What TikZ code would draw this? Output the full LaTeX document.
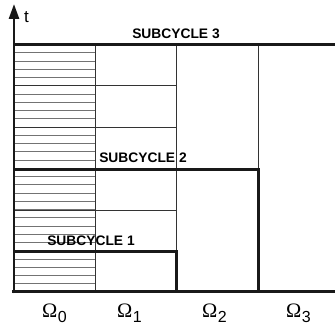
\documentclass[tikz,border=0pt]{standalone}
\usepackage{fontspec}
\setmainfont{Liberation Sans}
\newfontfamily\omserif{Liberation Serif}
\usetikzlibrary{arrows.meta}
\newcommand{\omlab}[1]{{\omserif\fontsize{20.5}{21}\selectfont\char"03A9}\raisebox{-5pt}{\fontsize{16}{16}\selectfont\rmfamily\hspace{0.5pt}#1}}
\begin{document}
\begin{tikzpicture}[x=1pt,y=-1pt,
  thickln/.style={line width=3pt, black!90},
  axisln/.style={line width=2.6pt, black!90},
  thinln/.style={line width=0.9pt, black!80},
  hatchln/.style={line width=0.8pt, black!55},
  sublabel/.style={font=\fontsize{13.8}{14}\selectfont\bfseries, inner sep=0pt},
  omlabel/.style={inner sep=0pt, anchor=base west}]
\useasboundingbox (0,0) rectangle (335,331);
% hatching in Omega_0
\foreach \i in {1,...,29} {
  \pgfmathsetmacro\yy{44.5+\i*247.5/30}
  \draw[hatchln] (14,\yy) -- (95,\yy);
}
% thin grid lines
\draw[thinln] (14,85.75) -- (176,85.75);
\draw[thinln] (14,127) -- (176,127);
\draw[thinln] (14,210.75) -- (176,210.75);
\draw[thinln] (95,44.5) -- (95,292);
\draw[thinln] (176,44.5) -- (176,252);
\draw[thinln] (258,44.5) -- (258,170);
% thick subcycle lines
\draw[thickln] (14,44.5) -- (335,44.5);
\draw[thickln] (14,170) -- (258,170) -- (258,292);
\draw[thickln] (14,252) -- (176,252) -- (176,292);
\draw[thickln] (12,292) -- (335,292);
% axis
\coordinate (ybot) at (14,293.5);
\coordinate (ytop) at (14,4);
\draw[axisln, -{Triangle[length=15pt,width=10pt]}] (ybot) -- (ytop);
\node[inner sep=0pt, font=\fontsize{17}{17}\selectfont] (tlab) at (26.5,17.5) {t};
% labels
\node[sublabel] (s3) at (176,33.5) {SUBCYCLE 3};
\node[sublabel] (s2) at (143,158) {SUBCYCLE 2};
\node[sublabel] (s1) at (91,240.5) {SUBCYCLE 1};
% Omega labels
\node[omlabel] (o0) at (42,318) {\omlab{0}};
\node[omlabel] (o1) at (117,318) {\omlab{1}};
\node[omlabel] (o2) at (202,318) {\omlab{2}};
\node[omlabel] (o3) at (286,318) {\omlab{3}};
\end{tikzpicture}
\end{document}
